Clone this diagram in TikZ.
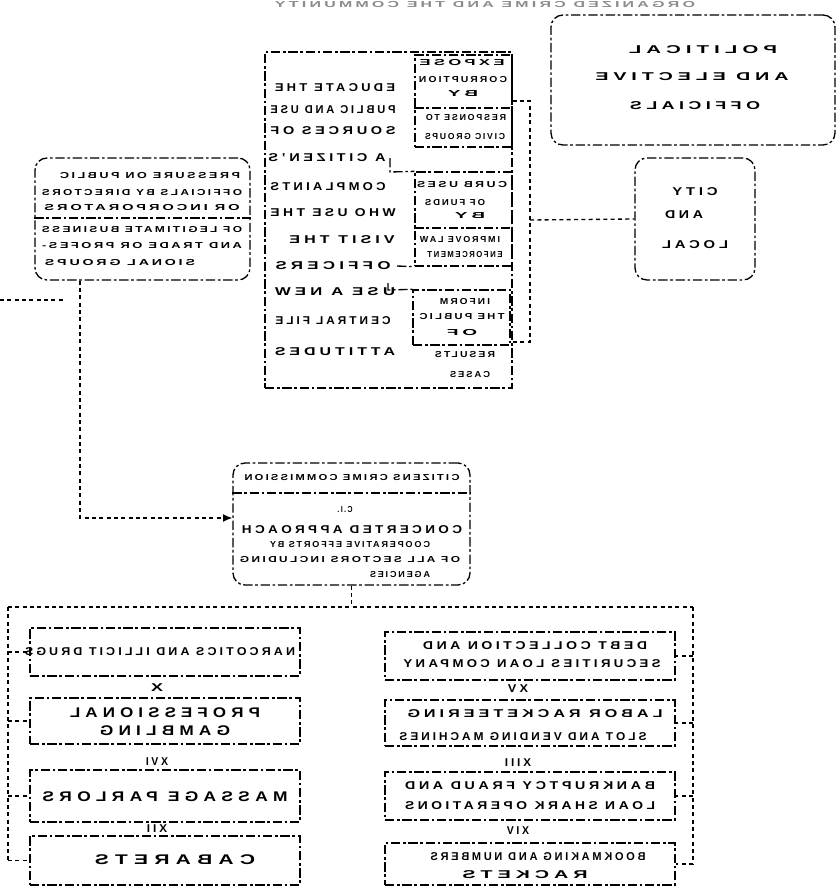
\documentclass[tikz,border=0pt]{standalone}
\usepackage{fontspec}
\usepackage{graphicx}
\setmainfont{Liberation Sans}
\usetikzlibrary{fit,arrows.meta}
\newcommand{\tx}[2]{\reflectbox{\resizebox{\dimexpr #1pt*3/4\relax}{\height}{#2}}}
\newcommand{\fB}{\bfseries\fontsize{10.5}{12}\selectfont\addfontfeature{LetterSpace=30}}
\newcommand{\fM}{\bfseries\fontsize{8.5}{10}\selectfont\addfontfeature{LetterSpace=25}}
\newcommand{\fS}{\bfseries\fontsize{6.5}{8}\selectfont\addfontfeature{LetterSpace=20}}
\begin{document}
\begin{tikzpicture}[x=0.75pt,y=-0.75pt,
  box/.style={draw=black, line width=1pt, dash pattern=on 7pt off 2pt on 2pt off 2pt, inner sep=0pt},
  rbox/.style={box, rounded corners=9pt},
  conn/.style={draw=black, line width=1pt, dash pattern=on 3pt off 2.5pt},
  tB/.style={font=\fB, inner sep=0pt},
  tM/.style={font=\fM, inner sep=0pt},
  tS/.style={font=\fS, inner sep=0pt},
  tT/.style={font=\fS, inner sep=0pt, text=black!45}]
\useasboundingbox (0,0) rectangle (838,893);

% ---------- title ----------
\node[tT] (title) at (485,5) {\tx{420}{ORGANIZED CRIME AND THE COMMUNITY}};

% ---------- top right box ----------
\node[rbox, fit={(551,15) (835,145)}] (TR) {};
\node[tM] (tr1) at (703,50) {\tx{148}{POLITICAL}};
\node[tM] (tr2) at (692,77) {\tx{193}{AND ELECTIVE}};
\node[tM] (tr3) at (695,106) {\tx{130}{OFFICIALS}};

% ---------- local box ----------
\node[rbox, fit={(635,158) (755,280)}] (Loc) {};
\node[tM] (lo1) at (695,192) {\tx{45}{CITY}};
\node[tM] (lo2) at (684,215) {\tx{38}{AND}};
\node[tM] (lo3) at (695,245) {\tx{66}{LOCAL}};

% ---------- middle box ----------
\node[box, fit={(265,52) (512,388)}] (M) {};
\node[tM] (m1) at (335,88) {\tx{120}{EDUCATE THE}};
\node[tM] (m2) at (333,110) {\tx{125}{PUBLIC AND USE}};
\node[tM] (m3) at (333,131) {\tx{125}{SOURCES OF}};
\node[tM] (m4) at (327,158) {\tx{117}{A CITIZEN'S}};
\node[tM] (m5) at (328,187) {\tx{115}{COMPLAINTS}};
\node[tM] (m6) at (333,213) {\tx{125}{WHO USE THE}};
\node[tM] (m7) at (342,240) {\tx{105}{VISIT THE}};
\node[tM] (m8) at (333,266) {\tx{115}{OFFICERS}};
\node[tM] (m9) at (335,292) {\tx{120}{USE A NEW}};
\node[tM] (m10) at (333,321) {\tx{115}{CENTRAL FILE}};
\node[tM] (m11) at (335,352) {\tx{120}{ATTITUDES}};

% sub box A
\node[box, fit={(415,55) (512,147)}] (A) {};
\coordinate (dA) at (0,108);
\draw[box] (A.west |- dA) -- (A.east |- dA);
\node[tS] (a1) at (462,63) {\tx{85}{EXPOSE}};
\node[tS] (a2) at (463,80) {\tx{88}{CORRUPTION}};
\node[tS] (a3) at (463,94) {\tx{30}{BY}};
\node[tS] (a4) at (466,118) {\tx{80}{RESPONSE TO}};
\node[tS] (a5) at (465,137) {\tx{80}{CIVIC GROUPS}};

% sub box B
\node[box, fit={(415,172) (512,266)}] (B) {};
\coordinate (dB) at (0,228);
\draw[box] (B.west |- dB) -- (B.east |- dB);
\coordinate (bA) at (390,158);
\coordinate (bB) at (390,172);
\coordinate (bC) at (397,266);
\draw[box] (bA) -- (bB) -- (B.north west);
\draw[box] (bC) -- (B.south west);
\node[tS] (b1) at (462,185) {\tx{90}{CURB USES}};
\node[tS] (b2) at (455,203) {\tx{60}{OF FUNDS}};
\node[tS] (b3) at (470,216) {\tx{30}{BY}};
\node[tS] (b4) at (460,240) {\tx{80}{IMPROVE LAW}};
\node[tS] (b5) at (465,255) {\tx{75}{ENFORCEMENT}};

% sub box C
\node[box, fit={(413,290) (510,345)}] (C) {};
\coordinate (cA) at (388,283);
\coordinate (cB) at (388,290);
\draw[box] (cA) -- (cB) -- (C.north west);
\node[tS] (c1) at (465,302) {\tx{50}{INFORM}};
\node[tS] (c2) at (462,317) {\tx{85}{THE PUBLIC}};
\node[tS] (c3) at (462,333) {\tx{30}{OF}};
\node[tS] (c4) at (465,355) {\tx{60}{RESULTS}};
\node[tS] (c5) at (470,375) {\tx{40}{CASES}};

% bus on the right of the middle box
\coordinate (busT) at (530,101);
\coordinate (busB) at (530,342);
\coordinate (busL) at (530,220);
\draw[conn] (A.east) -- (busT) -- (busB) -- (busB -| C.east);
\draw[conn] (busL) -- (Loc.west);

% ---------- left box ----------
\node[rbox, fit={(35,158) (250,280)}] (L) {};
\coordinate (dL) at (0,218);
\draw[box] (L.west |- dL) -- (L.east |- dL);
\node[tS] (l1) at (150,176) {\tx{180}{PRESSURE ON PUBLIC}};
\node[tS] (l2) at (142,193) {\tx{200}{OFFICIALS BY DIRECTORS}};
\node[tS] (l3) at (142,208) {\tx{195}{OR INCORPORATORS}};
\node[tS] (l4) at (142,230) {\tx{200}{OF LEGITIMATE BUSINESS}};
\node[tS] (l5) at (142,246) {\tx{200}{AND TRADE OR PROFES-}};
\node[tS] (l6) at (120,263) {\tx{150}{SIONAL GROUPS}};

\coordinate (s1) at (0,300);
\coordinate (s2) at (63,300);
\draw[conn] (s1) -- (s2);

% ---------- centre box ----------
\node[rbox, fit={(233,463) (470,585)}] (Ctr) {};
\coordinate (dC) at (0,493);
\draw[box] (Ctr.west |- dC) -- (Ctr.east |- dC);
\node[tS] (k1) at (352,478) {\tx{215}{CITIZENS CRIME COMMISSION}};
\node[tS] (k2) at (345,510) {\tx{15}{C.I.}};
\node[tM] (k3) at (352,530) {\tx{220}{CONCERTED APPROACH}};
\node[tS] (k4) at (350,545) {\tx{160}{COOPERATIVE EFFORTS BY}};
\node[tS] (k5) at (350,560) {\tx{220}{OF ALL SECTORS INCLUDING}};
\node[tS] (k6) at (400,575) {\tx{60}{AGENCIES}};

\coordinate (lv) at (80,0);
\coordinate (av) at (0,518);
\draw[conn, -{Latex[length=7pt,width=6pt]}] (L.south -| lv) -- (lv |- av) -- (Ctr.west |- av);

% ---------- lower bus ----------
\coordinate (lbT) at (8,607);
\coordinate (rbT) at (693,607);
\draw[conn] (Ctr.south) -- (Ctr.south |- lbT);
\draw[conn] (lbT) -- (rbT);

% left column boxes
\node[box, fit={(30,628) (300,676)}] (LB1) {};
\node[box, fit={(30,698) (300,744)}] (LB2) {};
\node[box, fit={(30,770) (300,822)}] (LB3) {};
\node[box, fit={(30,836) (300,885)}] (LB4) {};
\node[tM] (lb1) at (160,652) {\tx{270}{NARCOTICS AND ILLICIT DRUGS}};
\node[tB] (lb2a) at (165,713) {\tx{190}{PROFESSIONAL}};
\node[tB] (lb2b) at (165,731) {\tx{130}{GAMBLING}};
\node[tB] (lb3) at (165,797) {\tx{245}{MASSAGE PARLORS}};
\node[tB] (lb4) at (175,860) {\tx{160}{CABARETS}};
\node[tM] (lx1) at (157,688) {\tx{12}{X}};
\node[tM] (lx2) at (157,762) {\tx{22}{XVI}};
\node[tM] (lx3) at (157,829) {\tx{20}{XII}};

\draw[conn] (lbT) -- (lbT |- LB4.west);
\draw[conn] (lbT |- LB1.west) -- (LB1.west);
\draw[conn] (lbT |- LB2.west) -- (LB2.west);
\draw[conn] (lbT |- LB3.west) -- (LB3.west);
\draw[conn] (lbT |- LB4.west) -- (LB4.west);

% right column boxes
\node[box, fit={(385,632) (675,680)}] (RB1) {};
\node[box, fit={(385,700) (675,746)}] (RB2) {};
\node[box, fit={(385,772) (675,820)}] (RB3) {};
\node[box, fit={(385,843) (675,885)}] (RB4) {};
\node[tM] (rb1a) at (535,646) {\tx{224}{DEBT COLLECTION AND}};
\node[tM] (rb1b) at (532,664) {\tx{257}{SECURITIES LOAN COMPANY}};
\node[tM] (rb2a) at (535,714) {\tx{255}{LABOR RACKETEERING}};
\node[tM] (rb2b) at (523,737) {\tx{247}{SLOT AND VENDING MACHINES}};
\node[tM] (rb3a) at (530,786) {\tx{250}{BANKRUPTCY FRAUD AND}};
\node[tM] (rb3b) at (530,806) {\tx{250}{LOAN SHARK OPERATIONS}};
\node[tM] (rb4a) at (538,857) {\tx{215}{BOOKMAKING AND NUMBERS}};
\node[tM] (rb4b) at (525,875) {\tx{125}{RACKETS}};
\node[tM] (rx1) at (518,689) {\tx{20}{XV}};
\node[tM] (rx2) at (518,763) {\tx{26}{XIII}};
\node[tM] (rx3) at (518,831) {\tx{22}{XIV}};

\draw[conn] (rbT) -- (rbT |- RB4.east);
\draw[conn] (rbT |- RB1.east) -- (RB1.east);
\draw[conn] (rbT |- RB2.east) -- (RB2.east);
\draw[conn] (rbT |- RB3.east) -- (RB3.east);
\draw[conn] (rbT |- RB4.east) -- (RB4.east);
\end{tikzpicture}
\end{document}
